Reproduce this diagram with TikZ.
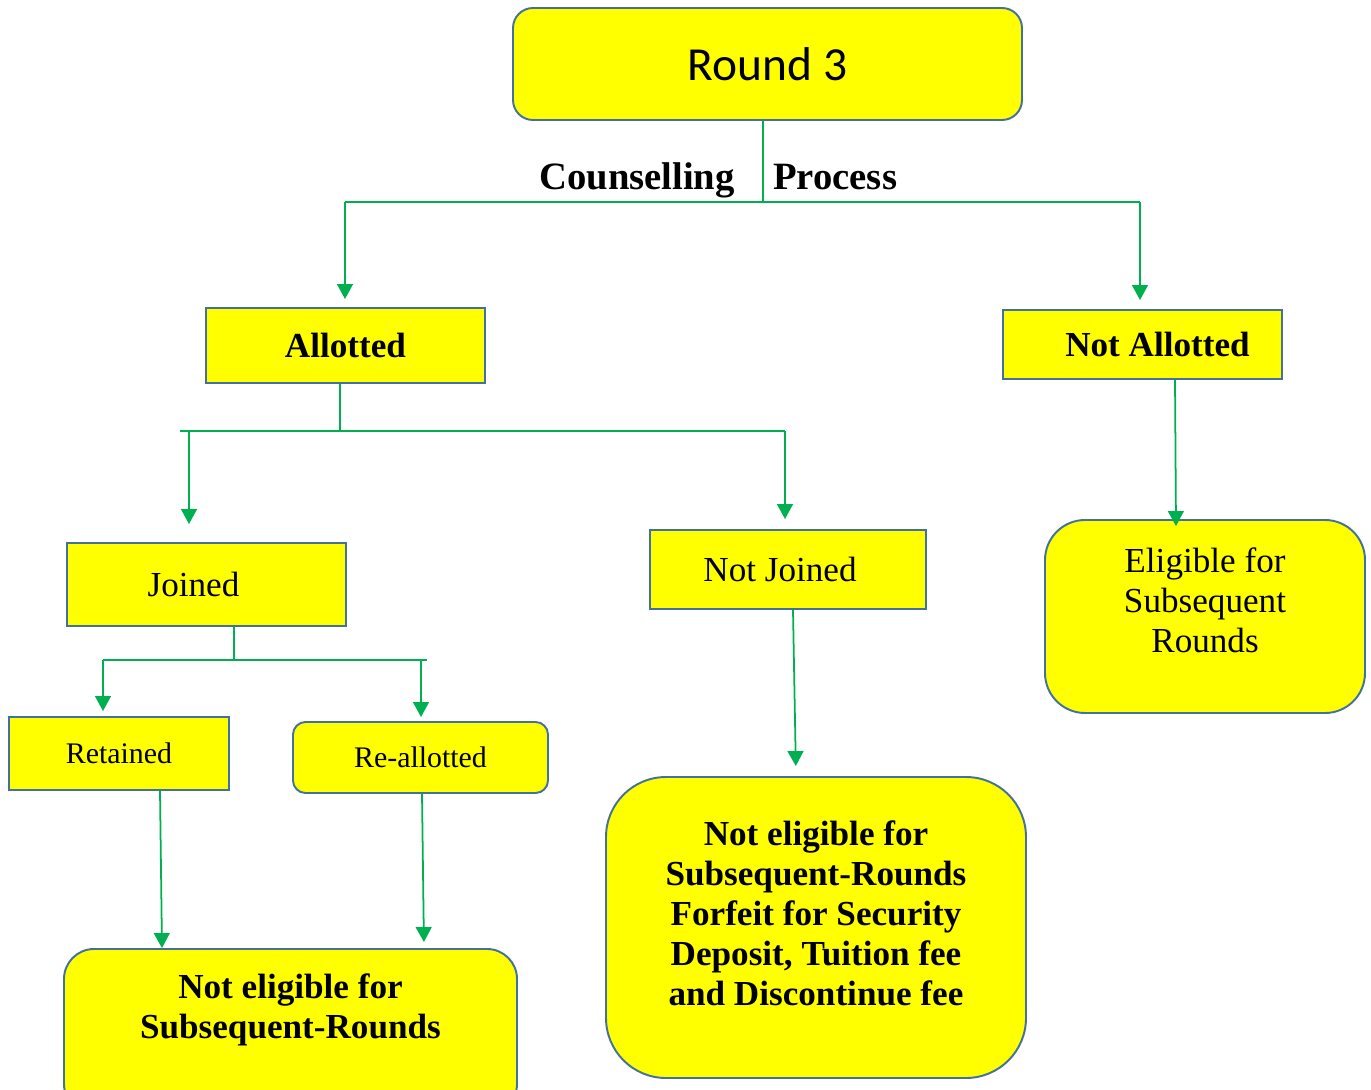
\documentclass[tikz,border=0pt]{standalone}
\usepackage{fontspec}
\setmainfont{Liberation Serif}
\newfontfamily\calib{Carlito}
\usetikzlibrary{arrows.meta}

\definecolor{boxfill}{RGB}{255,255,0}
\definecolor{boxline}{RGB}{65,113,156}
\definecolor{linkgreen}{RGB}{0,176,80}

\begin{document}
\begin{tikzpicture}[
  box/.style={draw=boxline, line width=1.1pt, fill=boxfill, inner sep=0pt, align=center},
  rbox/.style={box, rounded corners=#1},
  link/.style={linkgreen, line width=1pt},
  arr/.style={link, -{Triangle[width=9pt,length=8.5pt]}},
  lbl/.style={font=\fontsize{20}{22.7}\selectfont, align=center},
  blbl/.style={font=\fontsize{20}{22.7}\selectfont\bfseries, align=center},
  slbl/.style={font=\fontsize{17}{20}\selectfont}]
\useasboundingbox (0,0) rectangle (27.42,-21.8);
% boxes
\node[rbox=0.4cm, minimum width=10.18cm, minimum height=2.24cm, font=\calib\fontsize{27}{32}\selectfont] (Round) at (15.35,-1.28) {Round 3};
\node[font=\fontsize{22}{26}\selectfont\bfseries, anchor=base east] (Couns) at (14.82,-3.80) {Counselling};
\node[font=\fontsize{22}{26}\selectfont\bfseries, anchor=base west] (Proc) at (15.34,-3.80) {Process};
\node[box, minimum width=5.58cm, minimum height=1.50cm, blbl] (Allot) at (6.91,-6.91) {Allotted};
\node[box, minimum width=5.58cm, minimum height=1.38cm, blbl] (NotAllot) at (22.85,-6.89) {\hspace*{0.6cm}Not Allotted};
\node[box, minimum width=5.58cm, minimum height=1.66cm, lbl] (Joined) at (4.13,-11.69) {\hspace*{-0.52cm}Joined};
\node[box, minimum width=5.52cm, minimum height=1.58cm, lbl] (NotJoined) at (15.76,-11.39) {\hspace*{-0.32cm}Not Joined};
\node[rbox=0.8cm, minimum width=6.40cm, minimum height=3.86cm] (Elig) at (24.10,-12.33) {};
\node[lbl] (EligText) at (24.10,-12.01) {Eligible for\\Subsequent\\Rounds};
\node[box, minimum width=4.40cm, minimum height=1.46cm, slbl] (Retain) at (2.38,-15.07) {Retained};
\node[rbox=0.25cm, minimum width=5.10cm, minimum height=1.42cm, slbl] (Realot) at (8.41,-15.15) {Re-allotted};
\node[rbox=0.6cm, minimum width=9.06cm, minimum height=3.30cm] (NotElig) at (5.81,-20.63) {};
\node[blbl] (NotEligText) at (5.81,-20.20) {Not eligible for\\Subsequent-Rounds};
\node[rbox=1.2cm, minimum width=8.40cm, minimum height=6.02cm] (Forfeit) at (16.32,-18.55) {};
\node[blbl] (ForfeitText) at (16.32,-18.27) {Not eligible for\\Subsequent-Rounds\\Forfeit for Security\\Deposit, Tuition fee\\and Discontinue fee};
% tap points
\coordinate (RoundTap) at (15.26,-4.04);
\coordinate (BusA) at (6.90,-4.04);  \coordinate (BusB) at (22.80,-4.04);
\coordinate (AllotTap) at (6.80,-8.62);
\coordinate (BusC) at (3.60,-8.62);  \coordinate (BusD) at (15.70,-8.62);
\coordinate (JoinA) at (3.78,-8.62);
\coordinate (JoinTap) at (4.68,-13.20);
\coordinate (BusE) at (2.06,-13.20); \coordinate (BusF) at (8.54,-13.20);
\coordinate (RealTap) at (8.42,-13.20);
% connectors
\draw[link] (RoundTap |- Round.south) -- (RoundTap);
\draw[link] (BusA) -- (BusB);
\draw[arr, shorten >=0.16cm] (BusA) -- (BusA |- Allot.north);
\draw[arr, shorten >=0.18cm] (BusB) -- (BusB |- NotAllot.north);
\draw[link] (AllotTap |- Allot.south) -- (AllotTap);
\draw[link] (BusC) -- (BusD);
\draw[arr, shorten >=0.36cm] (JoinA) -- (JoinA |- Joined.north);
\draw[arr, shorten >=0.20cm] (BusD) -- (BusD |- NotJoined.north);
\draw[arr] ([xshift=0.65cm]NotAllot.south) -- ([xshift=-0.58cm,yshift=-0.14cm]Elig.north);
\draw[link] (JoinTap |- Joined.south) -- (JoinTap);
\draw[link] (BusE) -- (BusF);
\draw[arr, shorten >=0.10cm] (BusE) -- (BusE |- Retain.north);
\draw[arr, shorten >=0.08cm] (RealTap) -- (RealTap |- Realot.north);
\draw[arr] ([xshift=0.82cm]Retain.south) -- ([xshift=-2.57cm]NotElig.north);
\draw[arr, shorten >=0.12cm] ([xshift=0.03cm]Realot.south) -- ([xshift=2.67cm]NotElig.north);
\draw[arr, shorten >=0.20cm] ([xshift=0.10cm]NotJoined.south) -- ([xshift=-0.40cm]Forfeit.north);
\end{tikzpicture}
\end{document}
